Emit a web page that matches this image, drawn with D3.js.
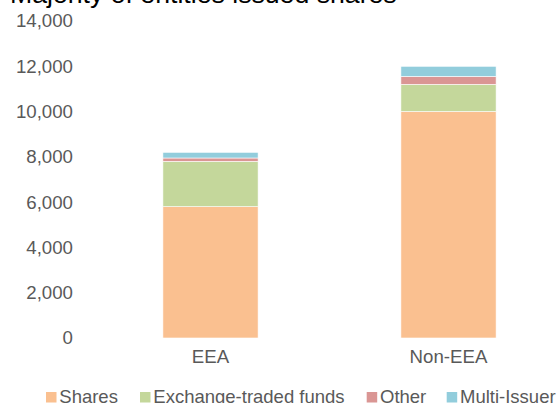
<!DOCTYPE html>
<html>
<head>
<meta charset="utf-8">
<script src="https://cdn.jsdelivr.net/npm/d3@7"></script>
<style>
  html, body { margin: 0; padding: 0; background: #fff; }
  svg { display: block; font-family: "Liberation Sans", Arial, sans-serif; }
</style>
</head>
<body>
<svg id="chart" width="556" height="403"></svg>
<script>
const title = "Majority of entities issued shares";
const categories = ["EEA", "Non-EEA"];
const seriesNames = ["Shares", "Exchange-traded funds", "Other", "Multi-Issuer"];
const shares = [5800, 10000];
const etfs = [2000, 1200];
const other = [150, 350];
const multiIssuer = [250, 450];
const yTicks = [0, 2000, 4000, 6000, 8000, 10000, 12000, 14000];
const colors = ["#FAC090", "#C4D79B", "#DA9694", "#92CDDC"];

const rows = categories.map((c, i) => ({
  category: c,
  "Shares": shares[i],
  "Exchange-traded funds": etfs[i],
  "Other": other[i],
  "Multi-Issuer": multiIssuer[i]
}));

const svg = d3.select("#chart");
const textColor = "#595959";

const x = d3.scaleBand().domain(categories).range([91.5, 567.5]).paddingInner(0.6).paddingOuter(0.3);
const y = d3.scaleLinear().domain([0, 14000]).range([338, 21]);
const color = d3.scaleOrdinal().domain(seriesNames).range(colors);

const stacked = d3.stack().keys(seriesNames)(rows);

svg.append("g").selectAll("g")
  .data(stacked)
  .join("g")
  .attr("fill", d => color(d.key))
  .selectAll("rect")
  .data(d => d)
  .join("rect")
  .attr("x", d => x(d.data.category))
  .attr("width", x.bandwidth())
  .attr("y", d => y(d[1]))
  .attr("height", d => y(d[0]) - y(d[1]))
  .attr("stroke", "#ffffff")
  .attr("stroke-width", 0.6);

// Y axis
const yAxis = d3.axisLeft(y).tickValues(yTicks).tickFormat(d3.format(",")).tickSize(0).tickPadding(0);
const gy = svg.append("g").attr("transform", "translate(73,0)").call(yAxis);
gy.select(".domain").remove();
gy.selectAll("text").attr("fill", textColor).style("font-size", "18.67px")
  .style("font-family", "'Liberation Sans', Arial, sans-serif");

// X axis
const xAxis = d3.axisBottom(x).tickSize(0).tickPadding(0);
const gx = svg.append("g").attr("transform", "translate(0,350)").call(xAxis);
gx.select(".domain").remove();
gx.selectAll("text").attr("fill", textColor).style("font-size", "18.67px")
  .style("font-family", "'Liberation Sans', Arial, sans-serif")
  .attr("dy", "0.71em");

// Title
svg.append("text")
  .attr("x", 10).attr("y", 3)
  .attr("fill", "#000")
  .style("font-size", "26.67px")
  .text(title);

// Legend
const legendX = [46, 140, 366.7, 446.7];
const legend = svg.append("g");
seriesNames.forEach((name, i) => {
  legend.append("rect")
    .attr("x", legendX[i]).attr("y", 392)
    .attr("width", 10.5).attr("height", 10.5)
    .attr("fill", color(name));
  legend.append("text")
    .attr("x", legendX[i] + 13.3).attr("y", 402.5)
    .attr("fill", textColor)
    .style("font-size", "18.5px")
    .text(name);
});
</script>
</body>
</html>
